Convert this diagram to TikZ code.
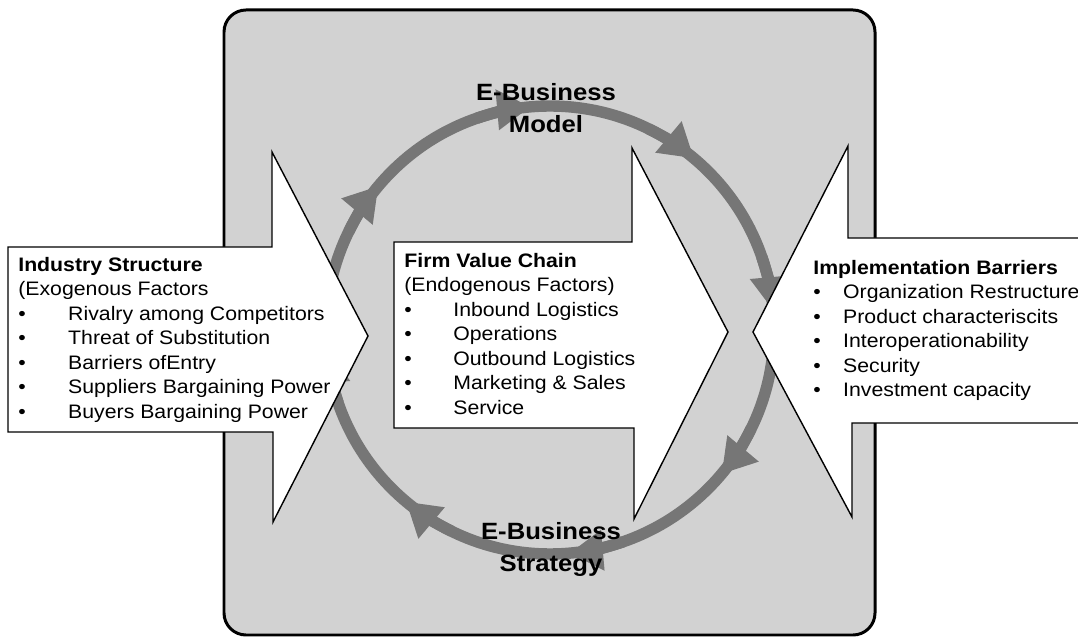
\documentclass[tikz,border=0pt]{standalone}
\usepackage{fontspec}
\setmainfont{Liberation Sans}[FakeStretch=1.09]
\usetikzlibrary{positioning,calc,arrows.meta}
\definecolor{panelColor}{RGB}{210,210,210}
\definecolor{cycleColor}{RGB}{118,118,118}
\newcommand{\blt}[1]{\makebox[#1][l]{•}}
\tikzset{
    panel/.style={
        draw,
        line width=1.7pt,
        fill=panelColor,
        rounded corners=0.44cm
    },
    bigarrow/.style={
        draw,
        line width=0.8pt,
        fill=white,
        line join=miter
    },
    cycband/.style={
        line width=6.5pt,
        color=cycleColor
    },
    cyc/.style={
        -{Triangle[length=19pt 0 0, width=22pt 0]},
        line width=6.5pt,
        color=cycleColor
    },
    blocktext/.style={
        anchor=north west,
        inner sep=0pt,
        align=left,
        font=\fontsize{11.1}{13.9}\selectfont
    },
    ebiz/.style={
        anchor=north,
        inner sep=0pt,
        align=center,
        font=\fontsize{13.4}{18.2}\selectfont\bfseries
    }
}

\begin{document}
\begin{tikzpicture}[x=0.02cm, y=0.02cm]
        \useasboundingbox (0,0) rectangle (1078,639);
        \clip (0,0) rectangle (1078,639);

        % grey panel
        \draw[panel] (224,4) rectangle (875,629);

        % e-business cycle
        \coordinate (ctr) at (550,309);
        \draw[cycband] (ctr) circle[radius=224];
        \foreach \a in {140,95,50,5,-40,-85,-130,-175}
            \draw[cyc] ($(ctr)+(\a+14:224)$) arc[start angle=\a+14, end angle=\a, radius=224];

        % the three big arrows
        \draw[bigarrow] (8,392) -- (272,392) -- (272,487) -- (368,303) -- (273,117) -- (273,207) -- (8,207) -- cycle;
        \draw[bigarrow] (394,397) -- (632,397) -- (632,491) -- (728,307) -- (634,120) -- (634,211) -- (394,211) -- cycle;
        \draw[bigarrow] (848,493) -- (753,307) -- (852,122) -- (852,216) -- (1100,216) -- (1100,401) -- (848,401) -- cycle;

        \node[blocktext] (industry) at (18,382) {\textbf{Industry Structure}\\
            (Exogenous Factors\\
            \blt{28.4pt}Rivalry among Competitors\\
            \blt{28.4pt}Threat of Substitution\\
            \blt{28.4pt}Barriers ofEntry\\
            \blt{28.4pt}Suppliers Bargaining Power\\
            \blt{28.4pt}Buyers Bargaining Power};
        \node[blocktext] (valuechain) at (404,386) {\textbf{Firm Value Chain}\\
            (Endogenous Factors)\\
            \blt{27.9pt}Inbound Logistics\\
            \blt{27.9pt}Operations\\
            \blt{27.9pt}Outbound Logistics\\
            \blt{27.9pt}Marketing \& Sales\\
            \blt{27.9pt}Service};
        \node[blocktext] (barriers) at (813,379) {\textbf{Implementation Barriers}\\
            \blt{17pt}Organization Restructure\\
            \blt{17pt}Product characteriscits\\
            \blt{17pt}Interoperationability\\
            \blt{17pt}Security\\
            \blt{17pt}Investment capacity};

        \node[ebiz] (model) at (546,556) {E-Business\\Model};
        \node[ebiz] (strategy) at (551,117) {E-Business\\Strategy};
    \end{tikzpicture}
\end{document}
